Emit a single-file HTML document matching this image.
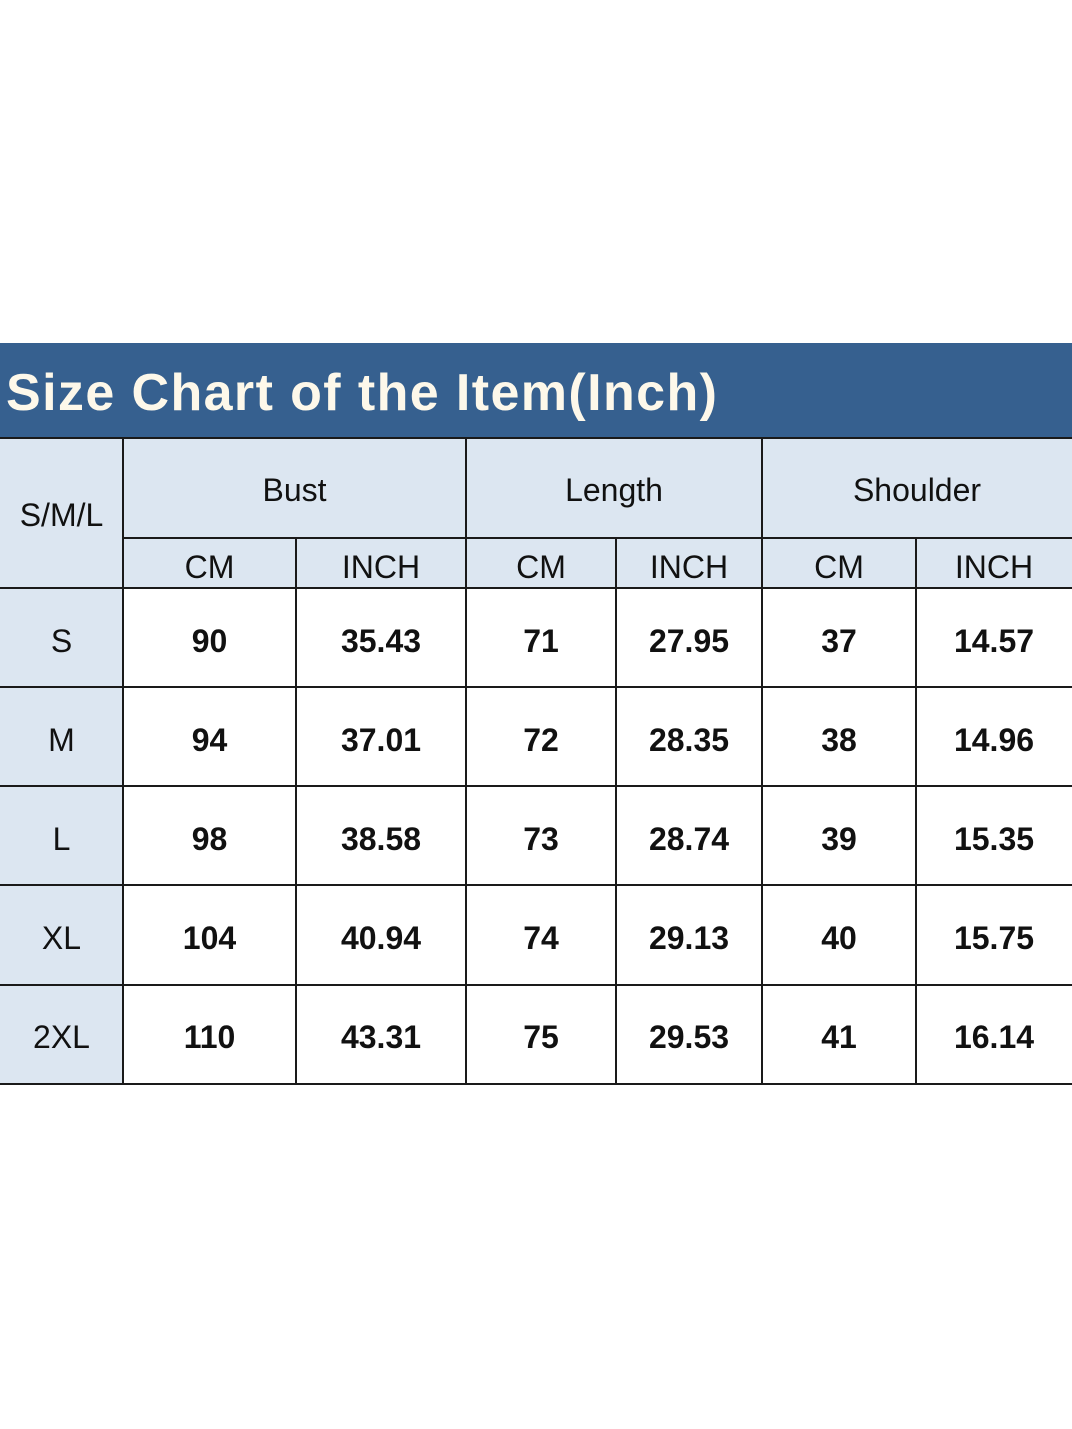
<!DOCTYPE html>
<html><head><style>
body{margin:0;width:1072px;height:1429px;background:#fff;position:relative;font-family:"Liberation Sans",sans-serif;overflow:hidden}
.t{position:absolute;left:0;top:343px;width:1072px;height:95px;background:#36608f;color:#fdf8ea;font-weight:bold;font-size:52px;line-height:100px;padding-left:6px;box-sizing:border-box;letter-spacing:1.4px;white-space:nowrap}
.c{position:absolute;box-sizing:border-box;display:flex;align-items:center;justify-content:center;color:#111;font-size:32px;padding-top:4px}
.b{background:#dce6f1}
.n{font-weight:bold}
.h{position:absolute;background:#1a1a1a}
</style></head><body>
<div class="t">Size Chart of the Item(Inch)</div>
<div class="c b" style="left:0;top:438px;width:1072px;height:150px"></div>
<div class="c" style="left:0;top:438px;width:123px;height:150px">S/M/L</div>
<div class="c" style="left:123px;top:438px;width:343px;height:100px">Bust</div>
<div class="c" style="left:466px;top:438px;width:296px;height:100px">Length</div>
<div class="c" style="left:762px;top:438px;width:310px;height:100px">Shoulder</div>
<div class="c" style="left:123px;top:540px;width:173px;height:50px">CM</div>
<div class="c" style="left:296px;top:540px;width:170px;height:50px">INCH</div>
<div class="c" style="left:466px;top:540px;width:150px;height:50px">CM</div>
<div class="c" style="left:616px;top:540px;width:146px;height:50px">INCH</div>
<div class="c" style="left:762px;top:540px;width:154px;height:50px">CM</div>
<div class="c" style="left:916px;top:540px;width:156px;height:50px">INCH</div>
<div class="c b" style="left:0;top:588px;width:123px;height:497px"></div>
<div class="c" style="left:0;top:590px;width:123px;height:99px">S</div>
<div class="c" style="left:0;top:689px;width:123px;height:99px">M</div>
<div class="c" style="left:0;top:788px;width:123px;height:99px">L</div>
<div class="c" style="left:0;top:887px;width:123px;height:99px">XL</div>
<div class="c" style="left:0;top:986px;width:123px;height:99px">2XL</div>

<div class="c n" style="left:123px;top:590px;width:173px;height:99px">90</div>
<div class="c n" style="left:296px;top:590px;width:170px;height:99px">35.43</div>
<div class="c n" style="left:466px;top:590px;width:150px;height:99px">71</div>
<div class="c n" style="left:616px;top:590px;width:146px;height:99px">27.95</div>
<div class="c n" style="left:762px;top:590px;width:154px;height:99px">37</div>
<div class="c n" style="left:916px;top:590px;width:156px;height:99px">14.57</div>

<div class="c n" style="left:123px;top:689px;width:173px;height:99px">94</div>
<div class="c n" style="left:296px;top:689px;width:170px;height:99px">37.01</div>
<div class="c n" style="left:466px;top:689px;width:150px;height:99px">72</div>
<div class="c n" style="left:616px;top:689px;width:146px;height:99px">28.35</div>
<div class="c n" style="left:762px;top:689px;width:154px;height:99px">38</div>
<div class="c n" style="left:916px;top:689px;width:156px;height:99px">14.96</div>

<div class="c n" style="left:123px;top:788px;width:173px;height:99px">98</div>
<div class="c n" style="left:296px;top:788px;width:170px;height:99px">38.58</div>
<div class="c n" style="left:466px;top:788px;width:150px;height:99px">73</div>
<div class="c n" style="left:616px;top:788px;width:146px;height:99px">28.74</div>
<div class="c n" style="left:762px;top:788px;width:154px;height:99px">39</div>
<div class="c n" style="left:916px;top:788px;width:156px;height:99px">15.35</div>

<div class="c n" style="left:123px;top:887px;width:173px;height:99px">104</div>
<div class="c n" style="left:296px;top:887px;width:170px;height:99px">40.94</div>
<div class="c n" style="left:466px;top:887px;width:150px;height:99px">74</div>
<div class="c n" style="left:616px;top:887px;width:146px;height:99px">29.13</div>
<div class="c n" style="left:762px;top:887px;width:154px;height:99px">40</div>
<div class="c n" style="left:916px;top:887px;width:156px;height:99px">15.75</div>

<div class="c n" style="left:123px;top:986px;width:173px;height:99px">110</div>
<div class="c n" style="left:296px;top:986px;width:170px;height:99px">43.31</div>
<div class="c n" style="left:466px;top:986px;width:150px;height:99px">75</div>
<div class="c n" style="left:616px;top:986px;width:146px;height:99px">29.53</div>
<div class="c n" style="left:762px;top:986px;width:154px;height:99px">41</div>
<div class="c n" style="left:916px;top:986px;width:156px;height:99px">16.14</div>

<div class="h" style="left:0;top:437px;width:1072px;height:2px"></div>
<div class="h" style="left:123px;top:537px;width:949px;height:2px"></div>
<div class="h" style="left:0;top:587px;width:1072px;height:2px"></div>
<div class="h" style="left:0;top:686px;width:1072px;height:2px"></div>
<div class="h" style="left:0;top:785px;width:1072px;height:2px"></div>
<div class="h" style="left:0;top:884px;width:1072px;height:2px"></div>
<div class="h" style="left:0;top:984px;width:1072px;height:2px"></div>
<div class="h" style="left:0;top:1083px;width:1072px;height:2px"></div>
<div class="h" style="left:122px;top:438px;width:2px;height:647px"></div>
<div class="h" style="left:465px;top:438px;width:2px;height:647px"></div>
<div class="h" style="left:761px;top:438px;width:2px;height:647px"></div>
<div class="h" style="left:295px;top:538px;width:2px;height:547px"></div>
<div class="h" style="left:615px;top:538px;width:2px;height:547px"></div>
<div class="h" style="left:915px;top:538px;width:2px;height:547px"></div>
</body></html>
